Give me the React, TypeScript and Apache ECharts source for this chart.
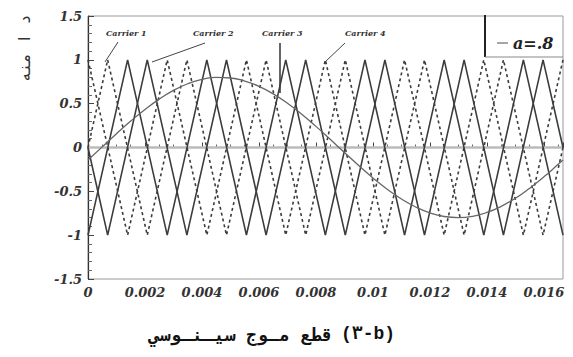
import React, { useEffect, useRef } from 'react';
import * as echarts from 'echarts';

// Time axis (seconds) and amplitude axis
const xMin = 0;
const xMax = 0.01667;
const xStep = 0.002;
const yMin = -1.5;
const yMax = 1.5;
const yStep = 0.5;

// Triangular carriers: vertex [time, level] pairs
const carrier1: [number, number][] = [
  [0, 0], [0.00069, 1], [0.00208, -1], [0.00347, 1], [0.00486, -1], [0.00625, 1], [0.00764, -1],
  [0.00903, 1], [0.01042, -1], [0.01181, 1], [0.0132, -1], [0.01458, 1], [0.01597, -1], [0.01667, 0],
];
const carrier2: [number, number][] = [
  [0, 0], [0.00069, -1], [0.00208, 1], [0.00347, -1], [0.00486, 1], [0.00625, -1], [0.00764, 1],
  [0.00903, -1], [0.01042, 1], [0.01181, -1], [0.0132, 1], [0.01458, -1], [0.01597, 1], [0.01667, 0],
];
const carrier3: [number, number][] = [
  [0, -1], [0.00139, 1], [0.00278, -1], [0.00417, 1], [0.00556, -1], [0.00694, 1], [0.00833, -1],
  [0.00972, 1], [0.01111, -1], [0.0125, 1], [0.01389, -1], [0.01528, 1], [0.01667, -1],
];
const carrier4: [number, number][] = [
  [0, 1], [0.00139, -1], [0.00278, 1], [0.00417, -1], [0.00556, 1], [0.00694, -1], [0.00833, 1],
  [0.00972, -1], [0.01111, 1], [0.0125, -1], [0.01389, 1], [0.01528, -1], [0.01667, 1],
];

// Sinusoidal reference (a = .8), sampled every 0.5 ms
const sineRef: [number, number][] = [
  [0, -0.143], [0.0005, 0.007], [0.001, 0.157], [0.0015, 0.301], [0.002, 0.434], [0.0025, 0.552],
  [0.003, 0.651], [0.0035, 0.727], [0.004, 0.777], [0.0045, 0.799], [0.005, 0.793], [0.0055, 0.758],
  [0.006, 0.698], [0.0065, 0.612], [0.007, 0.505], [0.0075, 0.379], [0.008, 0.241], [0.0085, 0.093],
  [0.009, -0.057], [0.0095, -0.206], [0.01, -0.347], [0.0105, -0.476], [0.011, -0.587], [0.0115, -0.679],
  [0.012, -0.746], [0.0125, -0.787], [0.013, -0.8], [0.0135, -0.785], [0.014, -0.741], [0.0145, -0.672],
  [0.015, -0.579], [0.0155, -0.464], [0.016, -0.335], [0.0165, -0.192], [0.01667, -0.143],
];

const carrierNames = ['Carrier 1', 'Carrier 2', 'Carrier 3', 'Carrier 4'];
const legendName = 'a=.8';
const yAxisTitle = 'د ا منه';
const captionTag = '(٣-b)';
const captionText = 'قطع مـوج سيـنـوسي';

const serifBoldItalic = {
  fontFamily: 'DejaVu Serif',
  fontWeight: 'bold' as const,
  fontStyle: 'italic' as const,
};

export default function App() {
  const ref = useRef<HTMLDivElement>(null);

  useEffect(() => {
    document.body.style.margin = '0';
    const chart = echarts.init(ref.current!, null, { renderer: 'svg' });

    const carrierStyle = (dashed: boolean) => ({
      color: '#3c3c3c',
      width: 1.6,
      type: dashed ? [3, 3] : 'solid',
    });

    const carrierSeries = [carrier1, carrier2, carrier3, carrier4].map((d, i) => ({
      name: carrierNames[i],
      type: 'line',
      data: d,
      symbol: 'none',
      lineStyle: carrierStyle(i === 0 || i === 3),
      z: 3,
    }));

    const labelStyle = {
      ...serifBoldItalic,
      fontSize: 8,
      fill: '#333',
    };

    chart.setOption({
      animation: false,
      backgroundColor: '#fff',
      grid: {
        left: 88,
        right: 10,
        top: 16,
        bottom: 78,
        show: true,
        borderColor: '#999',
        borderWidth: 1,
      },
      legend: {
        data: [{ name: legendName, icon: 'rect' }],
        left: 492,
        top: 30,
        itemWidth: 11,
        itemHeight: 1.5,
        itemGap: 4,
        textStyle: { ...serifBoldItalic, fontSize: 16, color: '#222' },
      },
      xAxis: {
        type: 'value',
        min: xMin,
        max: xMax,
        interval: xStep,
        axisLine: { show: true, lineStyle: { color: '#333', width: 1.2 } },
        axisTick: { show: true, inside: true, length: 5, lineStyle: { color: '#444' } },
        minorTick: { show: true, splitNumber: 4, length: 3, lineStyle: { color: '#666' } },
        splitLine: { show: false },
        axisLabel: { ...serifBoldItalic, fontSize: 13, color: '#333', margin: 7, showMaxLabel: false },
      },
      yAxis: {
        type: 'value',
        min: yMin,
        max: yMax,
        interval: yStep,
        axisLine: { show: true, lineStyle: { color: '#333', width: 1.2 } },
        axisTick: { show: true, inside: true, length: 6, lineStyle: { color: '#444' } },
        minorTick: { show: true, splitNumber: 5, length: 4, lineStyle: { color: '#666' } },
        splitLine: { show: false },
        axisLabel: { ...serifBoldItalic, fontSize: 13, color: '#333', margin: 6 },
      },
      series: [
        ...carrierSeries,
        {
          name: legendName,
          type: 'line',
          data: sineRef,
          symbol: 'none',
          smooth: true,
          lineStyle: { color: '#666', width: 1.3 },
          itemStyle: { color: '#888' },
          z: 4,
          markLine: {
            silent: true,
            symbol: 'none',
            label: { show: false },
            lineStyle: { color: '#bbb', width: 2.5, type: 'solid' },
            data: [{ yAxis: 0 }],
            z: 1,
          },
        },
      ],
      graphic: [
        // legend frame
        { type: 'line', shape: { x1: 485, y1: 15, x2: 485, y2: 57 }, style: { stroke: '#222', lineWidth: 2 } },
        { type: 'line', shape: { x1: 485, y1: 57, x2: 563, y2: 57 }, style: { stroke: '#888', lineWidth: 1 } },
        // carrier annotations
        { type: 'text', x: 106, y: 29, style: { ...labelStyle, text: carrierNames[0] } },
        { type: 'text', x: 193, y: 29, style: { ...labelStyle, text: carrierNames[1] } },
        { type: 'text', x: 262, y: 29, style: { ...labelStyle, text: carrierNames[2] } },
        { type: 'text', x: 345, y: 29, style: { ...labelStyle, text: carrierNames[3] } },
        { type: 'line', shape: { x1: 118, y1: 42, x2: 105, y2: 62 }, style: { stroke: '#444', lineWidth: 1 } },
        { type: 'line', shape: { x1: 205, y1: 43, x2: 152, y2: 62 }, style: { stroke: '#444', lineWidth: 1 } },
        { type: 'line', shape: { x1: 280, y1: 43, x2: 280, y2: 93 }, style: { stroke: '#333', lineWidth: 1.5 } },
        { type: 'line', shape: { x1: 345, y1: 43, x2: 325, y2: 62 }, style: { stroke: '#444', lineWidth: 1 } },
        // axis title
        {
          type: 'text',
          x: 16,
          y: 82,
          rotation: Math.PI / 2,
          style: {
            text: yAxisTitle,
            fontFamily: 'DejaVu Sans Mono, DejaVu Sans',
            fontSize: 16,
            fill: '#333',
            textAlign: 'left',
            textVerticalAlign: 'top',
          },
        },
        // caption: Arabic phrase with the figure tag beside it
        {
          type: 'text',
          x: 333,
          y: 334,
          style: {
            text: captionText,
            fontFamily: 'DejaVu Sans Mono, DejaVu Sans',
            fontWeight: 'bold',
            fontSize: 18,
            fill: '#111',
            textAlign: 'right',
            textVerticalAlign: 'middle',
          },
        },
        {
          type: 'text',
          x: 341,
          y: 334,
          style: {
            text: captionTag,
            fontFamily: 'Liberation Mono, DejaVu Sans Mono',
            fontWeight: 'bold',
            fontSize: 18,
            fill: '#111',
            textAlign: 'left',
            textVerticalAlign: 'middle',
          },
        },
      ],
    });

    return () => chart.dispose();
  }, []);

  return <div ref={ref} style={{ width: 573, height: 357 }} />;
}
